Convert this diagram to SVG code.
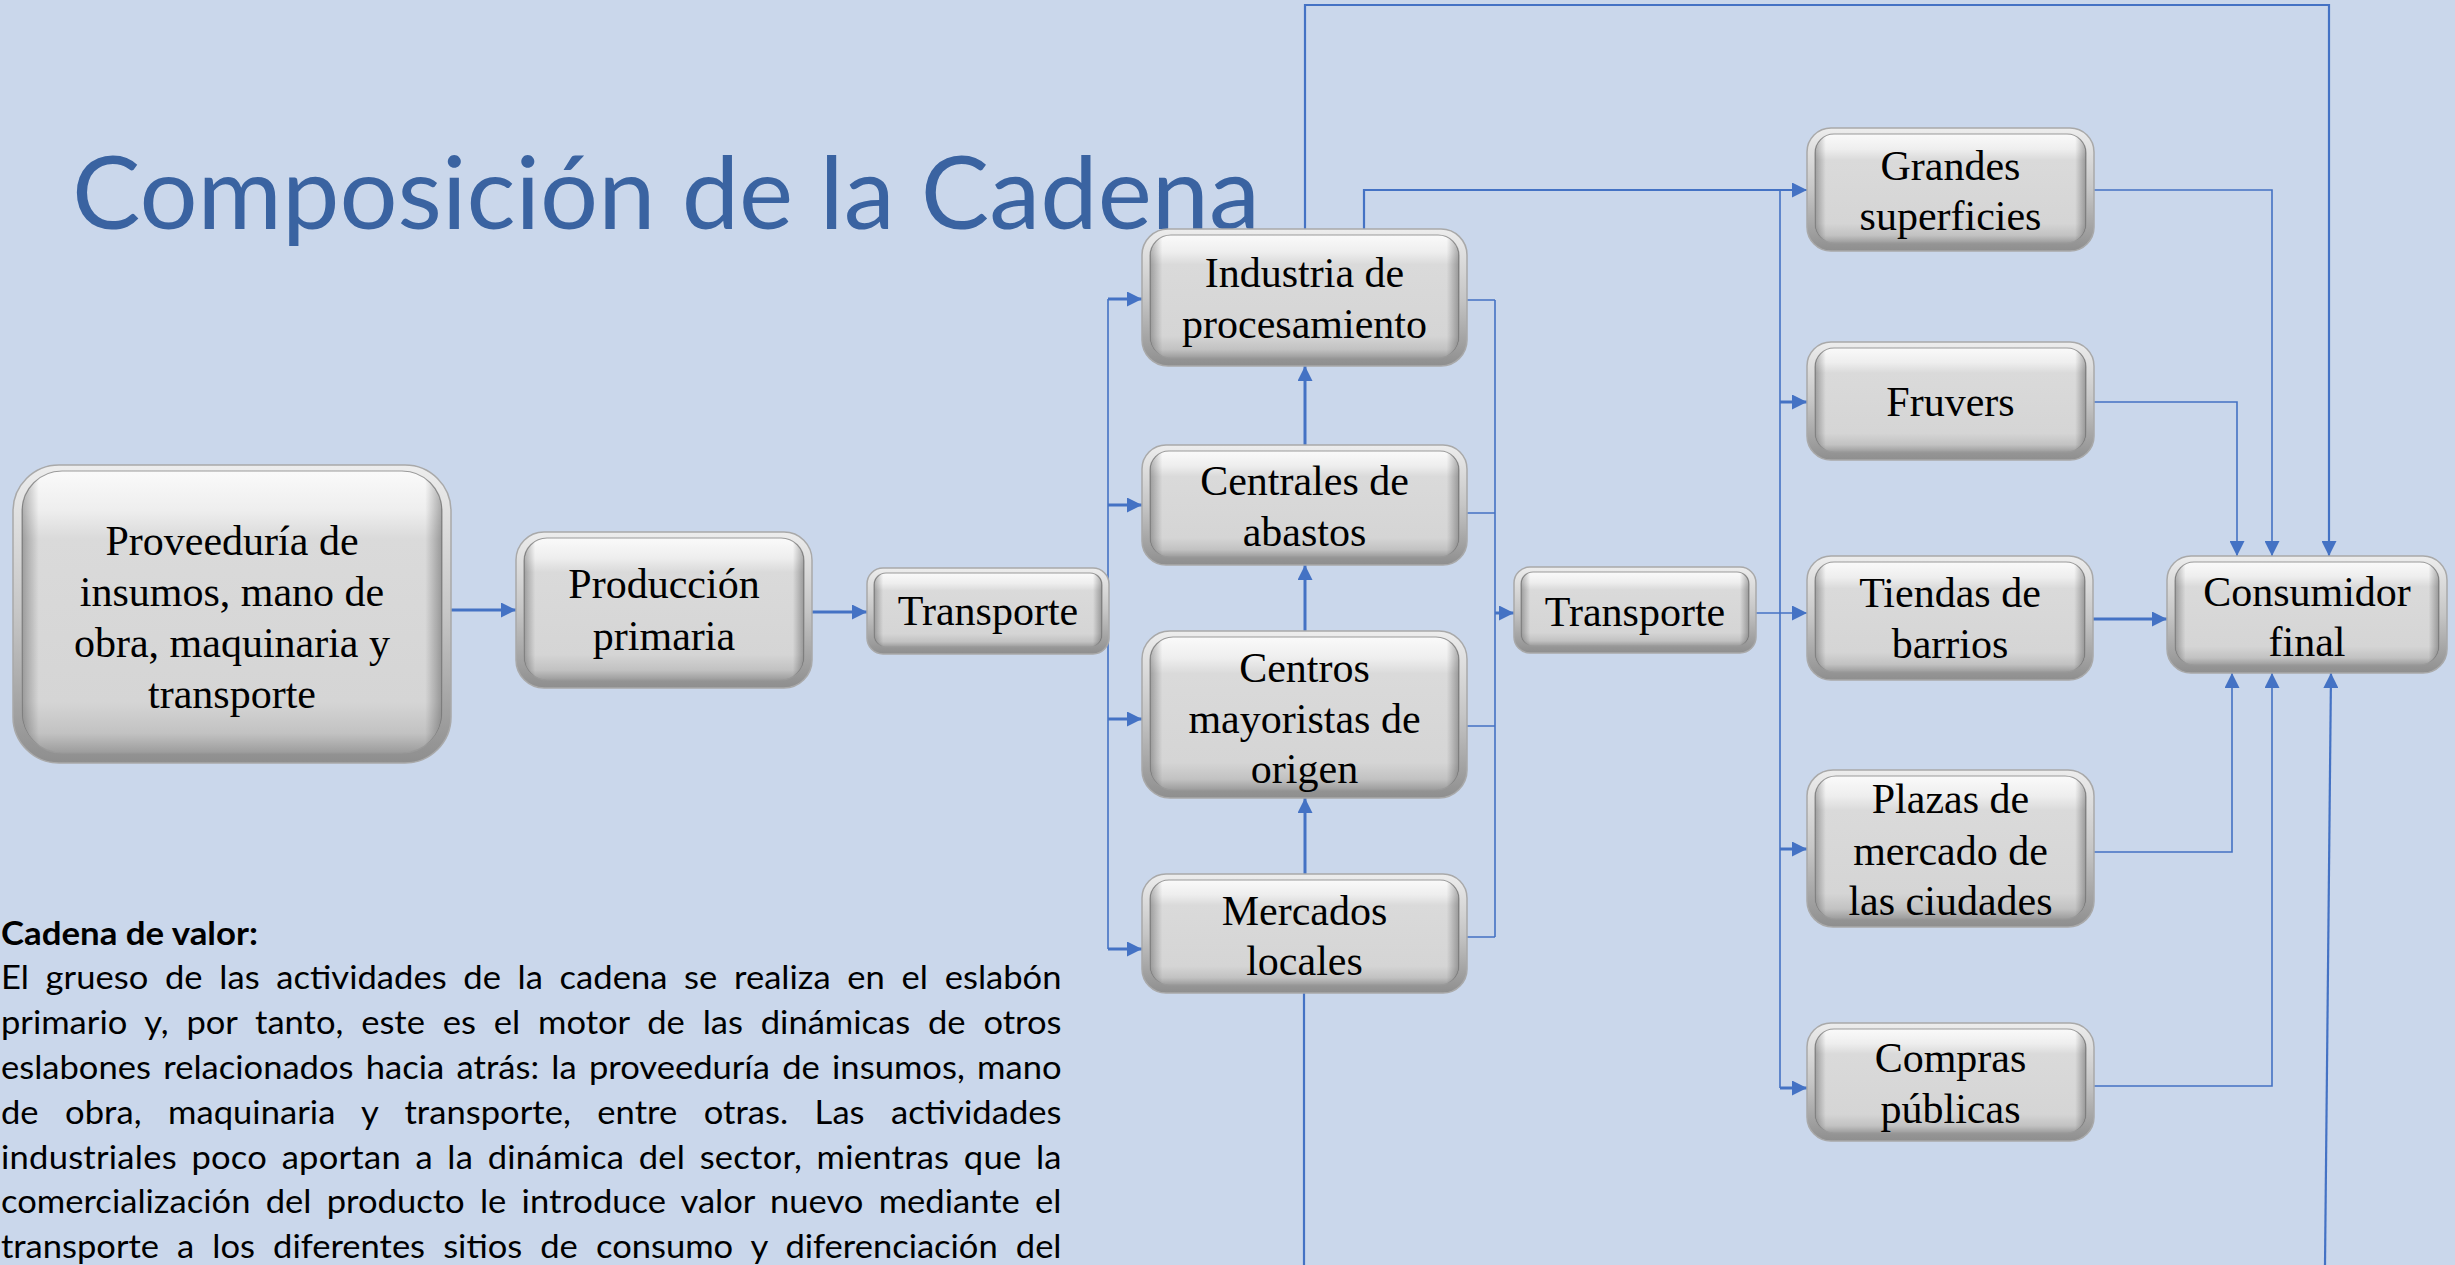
<svg xmlns="http://www.w3.org/2000/svg" width="2455" height="1265" viewBox="0 0 2455 1265">
<defs>
<linearGradient id="gRim" x1="0" y1="0" x2="0" y2="1">
<stop offset="0" stop-color="#EDEDED"/><stop offset="0.5" stop-color="#C6C6C6"/><stop offset="1" stop-color="#8E8E8E"/>
</linearGradient>
<linearGradient id="gFace" x1="0" y1="0" x2="0" y2="1">
<stop offset="0" stop-color="#FAFAFA"/><stop offset="0.14" stop-color="#EEEEEE"/><stop offset="0.24" stop-color="#DADADA"/><stop offset="0.82" stop-color="#D5D5D5"/><stop offset="0.93" stop-color="#C2C2C2"/><stop offset="1" stop-color="#9C9C9C"/>
</linearGradient>
<linearGradient id="gSide" x1="0" y1="0" x2="1" y2="0">
<stop offset="0" stop-color="#000" stop-opacity="0.28"/><stop offset="0.04" stop-color="#000" stop-opacity="0"/><stop offset="0.96" stop-color="#000" stop-opacity="0"/><stop offset="1" stop-color="#000" stop-opacity="0.3"/>
</linearGradient>
<marker id="ah" viewBox="0 0 10 10" refX="10" refY="5" markerWidth="17" markerHeight="15" markerUnits="userSpaceOnUse" orient="auto">
<path d="M0,0 L10,5 L0,10 z" fill="#4472C4"/>
</marker>
<style>
.rim{fill:url(#gRim);stroke:#A9A9A9;stroke-width:1.5}
.face{fill:url(#gFace);stroke:#9A9A9A;stroke-width:1.2}
.side{fill:url(#gSide)}
.lbl{font-family:"Liberation Serif","Times New Roman",serif;font-size:42px;fill:#000;text-anchor:middle}
.c{fill:none;stroke:#4472C4;stroke-linejoin:miter}
.thin{stroke-width:1.6}
.mid{stroke-width:2.2}
.thick{stroke-width:3}
.arr{marker-end:url(#ah)}
.body{font-family:Lato,"Liberation Sans",sans-serif;font-size:32px;fill:#000}
</style>
</defs>
<rect width="2455" height="1265" fill="#CAD7EB"/>
<text x="72" y="229" font-family="Lato,'Noto Sans',sans-serif" font-weight="400" font-size="100" fill="#3A63A1" textLength="1188" lengthAdjust="spacingAndGlyphs">Composición de la Cadena</text>

<g id="connectors">
<path class="c thick arr" d="M451,610 H516"/>
<path class="c thick arr" d="M812,612 H867"/>
<path class="c thin" d="M1108,299 V949"/>
<path class="c thick arr" d="M1108,299 H1142"/>
<path class="c thick arr" d="M1108,505 H1142"/>
<path class="c thick arr" d="M1108,719 H1142"/>
<path class="c thick arr" d="M1108,949 H1142"/>
<path class="c thick arr" d="M1305,445 V366"/>
<path class="c thick arr" d="M1305,631 V565"/>
<path class="c thick arr" d="M1305,874 V798"/>
<path class="c thin" d="M1467,300 H1495 M1467,513 H1495 M1467,726 H1495 M1467,937 H1495 M1495,300 V937"/>
<path class="c thick arr" d="M1495,613 H1514"/>
<path class="c thin arr" d="M1756,613 H1807"/>
<path class="c thin" d="M1780,190 V1088"/>
<path class="c mid arr" d="M1364,229 V190 H1807"/>
<path class="c thick arr" d="M1780,402 H1807"/>
<path class="c thick arr" d="M1780,849 H1807"/>
<path class="c thick arr" d="M1780,1088 H1807"/>
<path class="c mid arr" d="M1305,229 V5 H2329 V556"/>
<path class="c mid" d="M1304,993 V1265"/>
<path class="c mid arr" d="M2325,1265 L2331,673"/>
<path class="c thin arr" d="M2094,190 H2272 V556"/>
<path class="c thin arr" d="M2094,402 H2237 V556"/>
<path class="c thick arr" d="M2093,619 H2167"/>
<path class="c thin arr" d="M2094,852 H2232 V673"/>
<path class="c thin arr" d="M2094,1086 H2272 V673"/>
</g>

<g id="n-proveeduria">
<rect class="rim" x="13" y="465" width="438" height="298" rx="46"/>
<rect class="face" x="22" y="471" width="420" height="282" rx="40"/>
<rect class="side" x="22" y="471" width="420" height="282" rx="40"/>
<text class="lbl" x="232" y="555">Proveeduría de</text>
<text class="lbl" x="232" y="606">insumos, mano de</text>
<text class="lbl" x="232" y="657">obra, maquinaria y</text>
<text class="lbl" x="232" y="708">transporte</text>
</g>
<g id="n-produccion">
<rect class="rim" x="516" y="532" width="296" height="156" rx="28"/>
<rect class="face" x="524" y="538" width="280" height="142" rx="23"/>
<rect class="side" x="524" y="538" width="280" height="142" rx="23"/>
<text class="lbl" x="664" y="598">Producción</text>
<text class="lbl" x="664" y="650">primaria</text>
</g>
<g id="n-transporte1">
<rect class="rim" x="867" y="568" width="242" height="86" rx="16"/>
<rect class="face" x="874" y="573" width="228" height="74" rx="12"/>
<rect class="side" x="874" y="573" width="228" height="74" rx="12"/>
<text class="lbl" x="988" y="625">Transporte</text>
</g>
<g id="n-industria">
<rect class="rim" x="1142" y="229" width="325" height="137" rx="26"/>
<rect class="face" x="1150" y="235" width="309" height="123" rx="21"/>
<rect class="side" x="1150" y="235" width="309" height="123" rx="21"/>
<text class="lbl" x="1304.5" y="287">Industria de</text>
<text class="lbl" x="1304.5" y="338">procesamiento</text>
</g>
<g id="n-centrales">
<rect class="rim" x="1142" y="445" width="325" height="120" rx="24"/>
<rect class="face" x="1150" y="451" width="309" height="106" rx="19"/>
<rect class="side" x="1150" y="451" width="309" height="106" rx="19"/>
<text class="lbl" x="1304.5" y="495">Centrales de</text>
<text class="lbl" x="1304.5" y="546">abastos</text>
</g>
<g id="n-centros">
<rect class="rim" x="1142" y="631" width="325" height="167" rx="28"/>
<rect class="face" x="1150" y="637" width="309" height="153" rx="23"/>
<rect class="side" x="1150" y="637" width="309" height="153" rx="23"/>
<text class="lbl" x="1304.5" y="682">Centros</text>
<text class="lbl" x="1304.5" y="733">mayoristas de</text>
<text class="lbl" x="1304.5" y="783">origen</text>
</g>
<g id="n-mercados">
<rect class="rim" x="1142" y="874" width="325" height="119" rx="24"/>
<rect class="face" x="1150" y="880" width="309" height="105" rx="19"/>
<rect class="side" x="1150" y="880" width="309" height="105" rx="19"/>
<text class="lbl" x="1304.5" y="925">Mercados</text>
<text class="lbl" x="1304.5" y="975">locales</text>
</g>
<g id="n-transporte2">
<rect class="rim" x="1514" y="567" width="242" height="86" rx="16"/>
<rect class="face" x="1521" y="572" width="228" height="74" rx="12"/>
<rect class="side" x="1521" y="572" width="228" height="74" rx="12"/>
<text class="lbl" x="1635" y="626">Transporte</text>
</g>
<g id="n-grandes">
<rect class="rim" x="1807" y="128" width="287" height="123" rx="24"/>
<rect class="face" x="1815" y="134" width="271" height="109" rx="19"/>
<rect class="side" x="1815" y="134" width="271" height="109" rx="19"/>
<text class="lbl" x="1950.5" y="180">Grandes</text>
<text class="lbl" x="1950.5" y="230">superficies</text>
</g>
<g id="n-fruvers">
<rect class="rim" x="1807" y="342" width="287" height="118" rx="24"/>
<rect class="face" x="1815" y="348" width="271" height="104" rx="19"/>
<rect class="side" x="1815" y="348" width="271" height="104" rx="19"/>
<text class="lbl" x="1950.5" y="416">Fruvers</text>
</g>
<g id="n-tiendas">
<rect class="rim" x="1807" y="556" width="286" height="124" rx="24"/>
<rect class="face" x="1815" y="562" width="270" height="110" rx="19"/>
<rect class="side" x="1815" y="562" width="270" height="110" rx="19"/>
<text class="lbl" x="1950" y="607">Tiendas de</text>
<text class="lbl" x="1950" y="658">barrios</text>
</g>
<g id="n-plazas">
<rect class="rim" x="1807" y="770" width="287" height="157" rx="26"/>
<rect class="face" x="1815" y="776" width="271" height="143" rx="21"/>
<rect class="side" x="1815" y="776" width="271" height="143" rx="21"/>
<text class="lbl" x="1950.5" y="813">Plazas de</text>
<text class="lbl" x="1950.5" y="865">mercado de</text>
<text class="lbl" x="1950.5" y="915">las ciudades</text>
</g>
<g id="n-compras">
<rect class="rim" x="1807" y="1023" width="287" height="118" rx="24"/>
<rect class="face" x="1815" y="1029" width="271" height="104" rx="19"/>
<rect class="side" x="1815" y="1029" width="271" height="104" rx="19"/>
<text class="lbl" x="1950.5" y="1072">Compras</text>
<text class="lbl" x="1950.5" y="1123">públicas</text>
</g>
<g id="n-consumidor">
<rect class="rim" x="2167" y="556" width="280" height="117" rx="24"/>
<rect class="face" x="2175" y="562" width="264" height="103" rx="19"/>
<rect class="side" x="2175" y="562" width="264" height="103" rx="19"/>
<text class="lbl" x="2307" y="606">Consumidor</text>
<text class="lbl" x="2307" y="656">final</text>
</g>

<g id="body-text" transform="scale(1.08,1)">
<text class="body" x="0.9" y="945" font-weight="700" textLength="238" lengthAdjust="spacingAndGlyphs">Cadena de valor:</text>
<text class="body" x="0.9" y="989" word-spacing="7.2" textLength="982" lengthAdjust="spacing">El grueso de las actividades de la cadena se realiza en el eslabón</text>
<text class="body" x="0.9" y="1034" word-spacing="8.3" textLength="982" lengthAdjust="spacing">primario y, por tanto, este es el motor de las dinámicas de otros</text>
<text class="body" x="0.9" y="1079" word-spacing="3.2" textLength="982" lengthAdjust="spacing">eslabones relacionados hacia atrás: la proveeduría de insumos, mano</text>
<text class="body" x="0.9" y="1124" word-spacing="16.3" textLength="982" lengthAdjust="spacing">de obra, maquinaria y transporte, entre otras. Las actividades</text>
<text class="body" x="0.9" y="1169" word-spacing="5" textLength="982" lengthAdjust="spacing">industriales poco aportan a la dinámica del sector, mientras que la</text>
<text class="body" x="0.9" y="1213" word-spacing="5.9" textLength="982" lengthAdjust="spacing">comercialización del producto le introduce valor nuevo mediante el</text>
<text class="body" x="0.9" y="1258" word-spacing="8.6" textLength="982" lengthAdjust="spacing">transporte a los diferentes sitios de consumo y diferenciación del</text>
</g>
</svg>
